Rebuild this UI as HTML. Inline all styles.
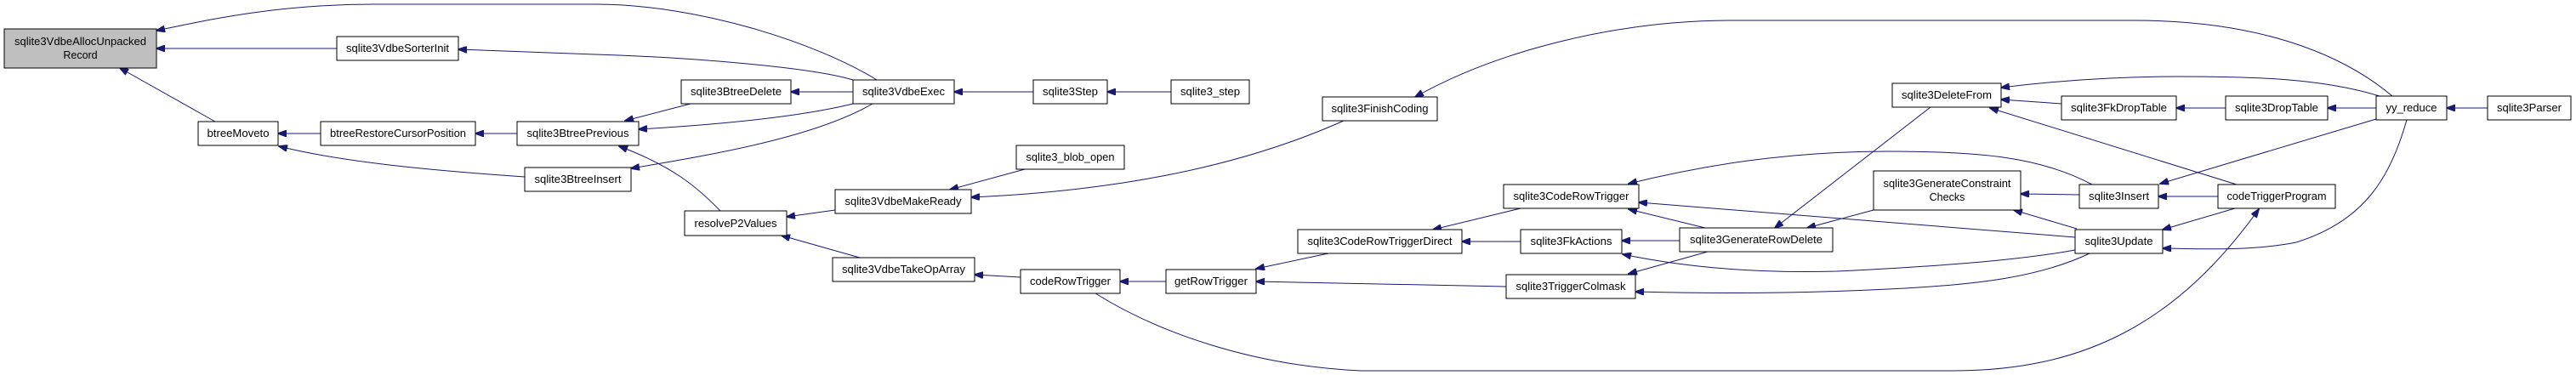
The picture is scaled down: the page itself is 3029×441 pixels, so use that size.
<!DOCTYPE html>
<html><head><meta charset="utf-8"><style>
html,body{margin:0;padding:0;background:#fff;}
svg{display:block;}
text{font-family:"Liberation Sans",sans-serif;font-size:12.5px;fill:#000;}
.n{fill:#fff;stroke:#000;stroke-width:1;}
.e{fill:none;stroke:#191970;stroke-width:1;}
</style></head><body>
<svg width="3029" height="441" viewBox="0 0 3029 441" xmlns="http://www.w3.org/2000/svg">
<defs><marker id="a" markerWidth="11" markerHeight="8" refX="10" refY="4" orient="auto" markerUnits="userSpaceOnUse"><path d="M0,0 L11,4 L0,8 z" fill="#191970" stroke="#191970"/></marker></defs>
<g class="e" marker-end="url(#a)">
<path d="M1031,94 C960,50 820,5 700,5 L440,5 C330,5 250,22 184,36"/>
<path d="M396,57 L184,57"/>
<path d="M253,143 L141,80"/>
<path d="M1003,94 C950,78 800,67 700,64 L539,58"/>
<path d="M377,157 L327,157"/>
<path d="M617,208 C500,200 400,190 328,172"/>
<path d="M608,157 L559,157"/>
<path d="M812,122 L735,142"/>
<path d="M1003,122 C930,140 820,148 751,152"/>
<path d="M1003,108 L930,108"/>
<path d="M1026,122 C960,160 850,180 742,198"/>
<path d="M847,248 C820,220 790,195 728,172"/>
<path d="M1215,108 L1122,108"/>
<path d="M1377,108 L1302,108"/>
<path d="M1205,199 L1117,223"/>
<path d="M1580,142 C1450,200 1300,225 1142,232"/>
<path d="M982,247 L925,255"/>
<path d="M1011,303 L919,277"/>
<path d="M1200,326 L1146,323"/>
<path d="M1371,331 L1317,331"/>
<path d="M1288,345 C1360,390 1470,430 1600,436 L2297,436 C2450,436 2560,380 2656,246"/>
<path d="M1562,298 L1477,316"/>
<path d="M1771,337 L1477,331"/>
<path d="M1788,245 L1685,270"/>
<path d="M1788,284 L1719,284"/>
<path d="M1975,283 L1907,283"/>
<path d="M2005,268 L1915,246"/>
<path d="M2008,296 L1915,322"/>
<path d="M2270,126 L2087,268"/>
<path d="M2203,247 L2125,268"/>
<path d="M2460,217 C2400,185 2330,178 2220,178 C2100,178 2000,195 1915,216"/>
<path d="M2440,279 L1927,238"/>
<path d="M2440,294 C2380,305 2300,312 2160,319 C2050,322 1970,312 1908,299"/>
<path d="M2457,298 C2400,325 2330,335 2220,340 C2100,346 2000,345 1923,343"/>
<path d="M2442,269 L2368,247"/>
<path d="M2445,229 L2376,228"/>
<path d="M2608,231 L2538,231"/>
<path d="M2628,245 L2543,270"/>
<path d="M2630,217 L2340,127"/>
<path d="M2424,122 L2353,117"/>
<path d="M2617,127 L2559,127"/>
<path d="M2794,127 L2737,127"/>
<path d="M2925,127 L2877,127"/>
<path d="M2798,113 C2730,92 2650,90 2560,90 C2480,90 2410,96 2353,103"/>
<path d="M2813,113 C2750,60 2650,24 2509,24 L2037,24 C1900,24 1760,60 1664,114"/>
<path d="M2794,140 L2540,216"/>
<path d="M2830,141 C2810,210 2780,260 2700,285 C2650,295 2590,293 2543,292"/>
</g>
<rect x="5" y="34" width="179" height="46" fill="#bfbfbf" stroke="#000"/>
<text x="94.5" y="53" text-anchor="middle" textLength="155" lengthAdjust="spacingAndGlyphs">sqlite3VdbeAllocUnpacked</text>
<text x="94.5" y="69" text-anchor="middle">Record</text>
<g>
<rect class="n" x="2203" y="201" width="173" height="46"/>
<text x="2289.5" y="220" text-anchor="middle" textLength="150" lengthAdjust="spacingAndGlyphs">sqlite3GenerateConstraint</text>
<text x="2289.5" y="236" text-anchor="middle">Checks</text>
</g>
<g id="nodes"></g>
<!-- single-line nodes -->
<rect class="n" x="396" y="43" width="143" height="28"/><text x="467.5" y="61" text-anchor="middle" textLength="121" lengthAdjust="spacingAndGlyphs">sqlite3VdbeSorterInit</text>
<rect class="n" x="233" y="143" width="94" height="28"/><text x="280" y="161" text-anchor="middle" textLength="73" lengthAdjust="spacingAndGlyphs">btreeMoveto</text>
<rect class="n" x="377" y="143" width="182" height="28"/><text x="468" y="161" text-anchor="middle" textLength="160" lengthAdjust="spacingAndGlyphs">btreeRestoreCursorPosition</text>
<rect class="n" x="608" y="143" width="143" height="28"/><text x="679.5" y="161" text-anchor="middle" textLength="120" lengthAdjust="spacingAndGlyphs">sqlite3BtreePrevious</text>
<rect class="n" x="617" y="197" width="125" height="28"/><text x="679.5" y="215" text-anchor="middle" textLength="102" lengthAdjust="spacingAndGlyphs">sqlite3BtreeInsert</text>
<rect class="n" x="801" y="94" width="129" height="28"/><text x="865.5" y="112" text-anchor="middle" textLength="107" lengthAdjust="spacingAndGlyphs">sqlite3BtreeDelete</text>
<rect class="n" x="1003" y="94" width="119" height="28"/><text x="1062.5" y="112" text-anchor="middle" textLength="97" lengthAdjust="spacingAndGlyphs">sqlite3VdbeExec</text>
<rect class="n" x="1215" y="94" width="87" height="28"/><text x="1258.5" y="112" text-anchor="middle" textLength="65" lengthAdjust="spacingAndGlyphs">sqlite3Step</text>
<rect class="n" x="1377" y="94" width="92" height="28"/><text x="1423" y="112" text-anchor="middle" textLength="70" lengthAdjust="spacingAndGlyphs">sqlite3_step</text>
<rect class="n" x="1195" y="171" width="127" height="28"/><text x="1258.5" y="189" text-anchor="middle" textLength="104" lengthAdjust="spacingAndGlyphs">sqlite3_blob_open</text>
<rect class="n" x="982" y="223" width="160" height="28"/><text x="1062" y="241" text-anchor="middle" textLength="137" lengthAdjust="spacingAndGlyphs">sqlite3VdbeMakeReady</text>
<rect class="n" x="805" y="248" width="120" height="29"/><text x="865" y="267" text-anchor="middle" textLength="97" lengthAdjust="spacingAndGlyphs">resolveP2Values</text>
<rect class="n" x="979" y="303" width="167" height="28"/><text x="1062.5" y="321" text-anchor="middle" textLength="145" lengthAdjust="spacingAndGlyphs">sqlite3VdbeTakeOpArray</text>
<rect class="n" x="1200" y="317" width="117" height="28"/><text x="1258.5" y="335" text-anchor="middle" textLength="95" lengthAdjust="spacingAndGlyphs">codeRowTrigger</text>
<rect class="n" x="1371" y="317" width="106" height="28"/><text x="1424" y="335" text-anchor="middle" textLength="86" lengthAdjust="spacingAndGlyphs">getRowTrigger</text>
<rect class="n" x="1555" y="114" width="135" height="28"/><text x="1622.5" y="132" text-anchor="middle" textLength="114" lengthAdjust="spacingAndGlyphs">sqlite3FinishCoding</text>
<rect class="n" x="1768" y="217" width="159" height="28"/><text x="1847.5" y="235" text-anchor="middle" textLength="136" lengthAdjust="spacingAndGlyphs">sqlite3CodeRowTrigger</text>
<rect class="n" x="1526" y="270" width="193" height="28"/><text x="1622.5" y="288" text-anchor="middle" textLength="170" lengthAdjust="spacingAndGlyphs">sqlite3CodeRowTriggerDirect</text>
<rect class="n" x="1788" y="270" width="119" height="28"/><text x="1847.5" y="288" text-anchor="middle" textLength="96" lengthAdjust="spacingAndGlyphs">sqlite3FkActions</text>
<rect class="n" x="1975" y="268" width="180" height="28"/><text x="2065" y="286" text-anchor="middle" textLength="156" lengthAdjust="spacingAndGlyphs">sqlite3GenerateRowDelete</text>
<rect class="n" x="1771" y="323" width="152" height="28"/><text x="1847" y="341" text-anchor="middle" textLength="129" lengthAdjust="spacingAndGlyphs">sqlite3TriggerColmask</text>
<rect class="n" x="2225" y="98" width="128" height="28"/><text x="2289" y="116" text-anchor="middle" textLength="106" lengthAdjust="spacingAndGlyphs">sqlite3DeleteFrom</text>
<rect class="n" x="2424" y="113" width="135" height="28"/><text x="2491.5" y="131" text-anchor="middle" textLength="113" lengthAdjust="spacingAndGlyphs">sqlite3FkDropTable</text>
<rect class="n" x="2617" y="113" width="120" height="28"/><text x="2677" y="131" text-anchor="middle" textLength="98" lengthAdjust="spacingAndGlyphs">sqlite3DropTable</text>
<rect class="n" x="2794" y="113" width="83" height="28"/><text x="2835.5" y="131" text-anchor="middle" textLength="60" lengthAdjust="spacingAndGlyphs">yy_reduce</text>
<rect class="n" x="2925" y="113" width="98" height="28"/><text x="2974" y="131" text-anchor="middle" textLength="76" lengthAdjust="spacingAndGlyphs">sqlite3Parser</text>
<rect class="n" x="2445" y="217" width="93" height="28"/><text x="2491.5" y="235" text-anchor="middle" textLength="71" lengthAdjust="spacingAndGlyphs">sqlite3Insert</text>
<rect class="n" x="2608" y="217" width="138" height="28"/><text x="2677" y="235" text-anchor="middle" textLength="117" lengthAdjust="spacingAndGlyphs">codeTriggerProgram</text>
<rect class="n" x="2440" y="270" width="103" height="28"/><text x="2491.5" y="288" text-anchor="middle" textLength="80" lengthAdjust="spacingAndGlyphs">sqlite3Update</text>
</svg>
</body></html>
